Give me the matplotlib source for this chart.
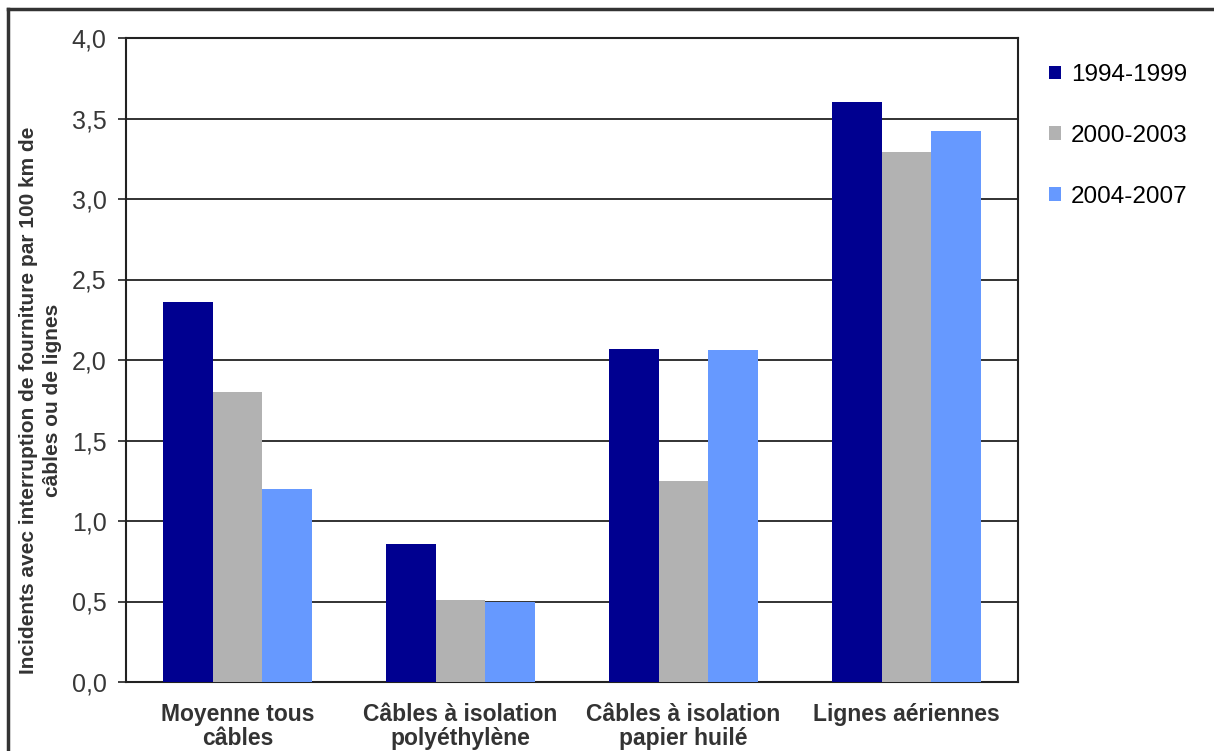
import numpy as np
import matplotlib.pyplot as plt
from matplotlib.lines import Line2D

categories = ["Moyenne tous\ncâbles", "Câbles à isolation\npolyéthylène",
              "Câbles à isolation\npapier huilé", "Lignes aériennes"]
periodes = ["1994-1999", "2000-2003", "2004-2007"]
v_1994_1999 = [2.36, 0.86, 2.07, 3.60]
v_2000_2003 = [1.80, 0.51, 1.25, 3.29]
v_2004_2007 = [1.20, 0.50, 2.06, 3.42]
couleurs = ["#000090", "#b2b2b2", "#6699ff"]

plt.rcParams['font.family'] = ['Liberation Sans', 'DejaVu Sans']

fig = plt.figure(figsize=(12.14, 7.51), dpi=100)
ax = fig.add_axes([126 / 1214, 1 - 682 / 751, 892 / 1214, 644 / 751])

x = np.arange(len(categories)) + 0.5
largeur = 0.224
series = [v_1994_1999, v_2000_2003, v_2004_2007]
for i, (vals, coul, lab) in enumerate(zip(series, couleurs, periodes)):
    ax.bar(x + (i - 1) * largeur, vals, largeur, color=coul, label=lab, zorder=3)

ax.set_xlim(0, 4)
ax.set_ylim(0, 4.0)
ax.set_yticks(np.arange(0, 4.01, 0.5))
ax.set_yticklabels([f"{v:.1f}".replace(".", ",") for v in np.arange(0, 4.01, 0.5)],
                   fontsize=18, color="#383838")
ax.set_xticks(x)
ax.set_xticklabels(categories, fontsize=16.5, fontweight="bold", color="#333333",
                   linespacing=1.05)
ax.tick_params(axis="x", length=0, pad=15)
ax.tick_params(axis="y", length=6, width=1.2, color="#222222", pad=8)
ax.yaxis.grid(True, color="#222222", linewidth=1.3, zorder=0)
for s in ax.spines.values():
    s.set_color("#222222")
    s.set_linewidth(1.5)

ax.set_ylabel("Incidents avec interruption de fourniture par 100 km de\ncâbles ou de lignes",
              fontsize=15, fontweight="bold", color="#333333", linespacing=1.3)
ax.yaxis.set_label_coords(-0.072, 0.438)

fig.legend(loc="upper left", bbox_to_anchor=(1037 / 1214, 1 - 52 / 751),
           frameon=False, fontsize=17.5, handlelength=0.5, handleheight=0.5,
           handletextpad=0.4, labelspacing=1.6, borderpad=0)

# cadre autour de la figure
fig.add_artist(Line2D([8 / 1214, 8 / 1214], [0, 1 - 9 / 751],
                      transform=fig.transFigure, color="#333333", linewidth=2.5))
fig.add_artist(Line2D([8 / 1214, 1], [1 - 9 / 751, 1 - 9 / 751],
                      transform=fig.transFigure, color="#333333", linewidth=2.5))

fig.savefig("out.png", dpi=100)
